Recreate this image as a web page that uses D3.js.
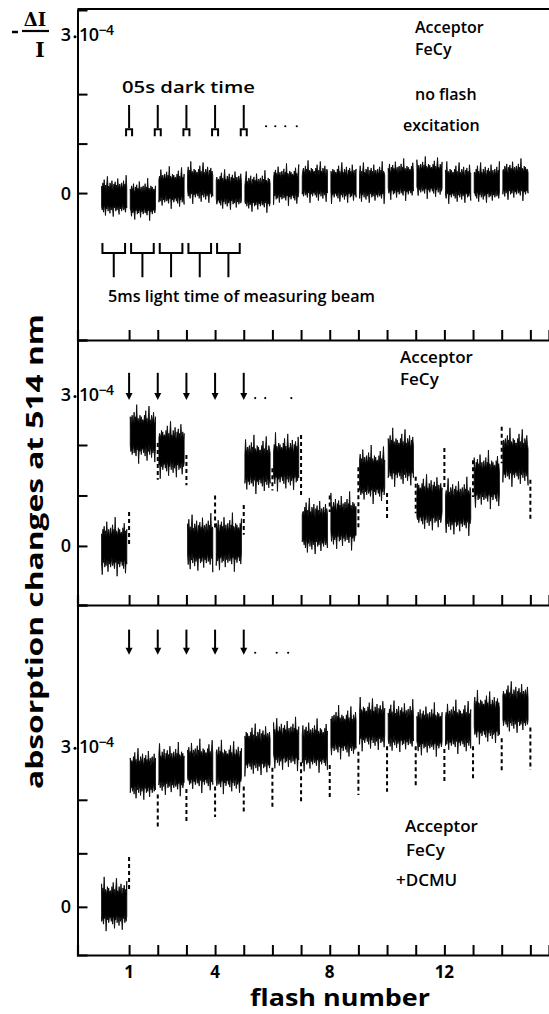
<!DOCTYPE html>
<html><head><meta charset="utf-8">
<script src="https://cdn.jsdelivr.net/npm/d3@7/dist/d3.min.js"></script>
<style>body{margin:0;background:#fff}svg{display:block}</style>
</head><body>
<svg id="c" width="549" height="1014"></svg>
<script>
// ---------- data (values in units of 1e-4) ----------
const flashTicks = [1,2,3,4,5,6,7,8,9,10,11,12,13,14,15];
const xTickLabels = [1,4,8,12];
const segmentIndex = [0,1,2,3,4,5,6,7,8,9,10,11,12,13,14];
const yTicks = [0,1,2];
const topLevels = [-0.08,-0.14,0.10,0.20,0.06,0.02,0.16,0.22,0.20,0.20,0.26,0.30,0.20,0.20,0.26];
const midLevels = [-0.03,2.20,1.90,0.05,0.06,1.60,1.65,0.38,0.48,1.40,1.74,0.85,0.77,1.30,1.74];
const botLevels = [0.04,2.47,2.56,2.62,2.60,2.93,3.03,3.00,3.25,3.40,3.36,3.30,3.35,3.53,3.72];
// dashed flash transients: [flash, from, to]
const midDashes = [[1,0.67,0.02],[2,2.04,1.31],[3,1.8,1.2],[4,1.0,0.32],[5,0.81,0.22],[6,1.54,1.1],[7,2.2,1.0],[8,1.0,0.67],
  [9,1.56,0.32],[10,1.05,0.51],[11,1.37,0.65],[12,1.94,1.17],[13,1.7,0.97],[14,2.36,1.64],[15,1.31,0.51]];
const botDashes = [[1,0.93,0.32],[2,2.1,1.5],[3,2.2,1.59],[4,2.25,1.68],[5,2.25,1.76],[6,2.6,1.87],[7,2.7,1.94],[8,2.65,2.04],
  [9,2.9,2.09],[10,3.0,2.15],[11,3.0,2.24],[12,2.95,2.32],[13,3.0,2.37],[14,3.15,2.5],[15,3.35,2.56]];
const arrowFlashes = [1,2,3,4,5];
// hand-typed noise texture of the recorder trace (envelope multipliers)
const noiseUp = [1.0,0.7,1.3,0.9,1.6,0.8,1.1,0.6,1.2,1.9,0.9,1.0,0.7,1.3,1.1,0.8,1.5,0.9,0.6,1.2,1.0,1.4,0.8,1.1,
  0.7,1.7,1.0,0.9,1.2,0.6,1.1,1.3,0.8,1.0,1.5,0.7,1.2,0.9,2.0,0.8,1.1,1.0,0.7,1.3,0.9,1.2,0.8,1.0];
const noiseDown = [0.9,1.2,0.8,1.4,0.7,1.0,1.7,0.9,1.1,0.6,1.3,0.8,1.0,1.5,0.7,1.2,0.9,1.1,1.8,0.8,1.0,0.7,1.3,0.9,
  1.2,0.8,1.0,1.6,0.7,1.1,0.9,1.3,1.0,0.6,1.2,0.9,1.1,1.4,0.8,1.0,0.7,1.9,0.9,1.1,0.8,1.3,1.0,0.9];

const svg = d3.select("#c");
const FONT = "'Open Sans', sans-serif";
const x = d3.scaleLinear().domain([-0.8, 15.65]).range([77.5, 549]);

const panels = [
  {levels: topLevels, dashes: [], y: d3.scaleLinear().domain([-2.97, 3.7]).range([340, 10]), hw: 0.22, labelDy: -10},
  {levels: midLevels, dashes: midDashes, y: d3.scaleLinear().domain([-1.17, 4.08]).range([605, 340]), hw: 0.30, labelDy: 0},
  {levels: botLevels, dashes: botDashes, y: d3.scaleLinear().domain([-0.9, 5.64]).range([955, 605]), hw: 0.26, labelDy: 0}
];

const NP = 40;
panels.forEach((p, pi) => {
  const g = svg.append("g");
  const y = p.y;
  const ax = d3.axisBottom(x).tickValues(flashTicks).tickSize(-10).tickFormat("");
  const ag = g.append("g").attr("transform", `translate(0,${y.range()[0]})`).call(ax);
  ag.select(".domain").attr("stroke", "#000").attr("stroke-width", 2.2);
  ag.selectAll(".tick line").attr("stroke", "#000").attr("stroke-width", 2);
  const ay = d3.axisLeft(y).tickValues(yTicks).tickSize(-10).tickFormat("");
  const yg = g.append("g").attr("transform", `translate(${x(-0.8)},0)`).call(ay);
  yg.select(".domain").attr("stroke", "#000").attr("stroke-width", 2);
  yg.selectAll(".tick line").attr("stroke", "#000").attr("stroke-width", 2);
  g.append("text").attr("x", 71).attr("y", y(0)).attr("dy", "0.36em").attr("text-anchor", "end")
    .attr("font-family", FONT).attr("font-weight", 600).attr("font-size", 18).text("0");
  const ly = y(3) + p.labelDy;
  g.append("text").attr("x", 71).attr("y", ly).attr("dy", "0.36em").attr("text-anchor", "end")
    .attr("font-family", FONT).attr("font-weight", 600).attr("font-size", 18).text("3");
  g.append("circle").attr("cx", 75).attr("cy", ly + 2).attr("r", 1.5).attr("fill", "#000");
  const t10 = g.append("text").attr("x", 79).attr("y", ly).attr("dy", "0.36em")
    .attr("font-family", FONT).attr("font-weight", 600).attr("font-size", 18).attr("letter-spacing", -0.5);
  t10.append("tspan").text("10");
  t10.append("tspan").attr("dy", -6).attr("font-size", 14).text("\u22124");

  const area = d3.area().x(d => x(d.f)).y0(d => y(d.lo)).y1(d => y(d.hi)).curve(d3.curveLinear);
  segmentIndex.forEach(s => {
    const lev = p.levels[s];
    const pts = d3.range(NP).map(j => {
      const k = (j + s * 11 + pi * 17) % noiseUp.length;
      return {f: s + 0.04 + 0.88 * j / (NP - 1), hi: lev + p.hw * noiseUp[k], lo: lev - p.hw * noiseDown[k]};
    });
    g.append("path").attr("d", area(pts)).attr("fill", "#000").attr("stroke", "#000").attr("stroke-width", 0.8);
  });
  p.dashes.forEach(d => {
    g.append("line").attr("x1", x(d[0])).attr("x2", x(d[0])).attr("y1", y(d[1])).attr("y2", y(d[2]))
      .attr("stroke", "#000").attr("stroke-width", 2).attr("stroke-dasharray", "4,3");
  });
});

svg.append("line").attr("x1", x(-0.8)).attr("x2", 549).attr("y1", 9).attr("y2", 9).attr("stroke", "#000").attr("stroke-width", 2.2);

// ---------- top panel annotations ----------
const yT = panels[0].y;
function txt(xp, yp, s, size, extra) {
  const t = svg.append("text").attr("x", xp).attr("y", yp).attr("font-family", FONT).attr("font-weight", 600)
    .attr("font-size", size).attr("fill", "#000").text(s);
  if (extra) Object.entries(extra).forEach(([k, v]) => t.attr(k, v));
  return t;
}
txt(122, 93, "05s dark time", 17, {textLength: 133, lengthAdjust: "spacingAndGlyphs"});
arrowFlashes.forEach(f => {
  const cx = x(f);
  svg.append("line").attr("x1", cx).attr("x2", cx).attr("y1", yT(1.78)).attr("y2", yT(1.31)).attr("stroke", "#000").attr("stroke-width", 2);
  svg.append("path").attr("d", `M${cx - 3},${yT(1.15)} V${yT(1.31) + 1} H${cx + 3} V${yT(1.15)}`)
    .attr("fill", "none").attr("stroke", "#000").attr("stroke-width", 2);
});
[5.78, 6.1, 6.45, 6.85].forEach(f => svg.append("circle").attr("cx", x(f)).attr("cy", yT(1.35)).attr("r", 1.1).attr("fill", "#000"));
[0,1,2,3,4].forEach(i => {
  const a = x(i + 0.07), b = x(i + 0.86), m = (a + b) / 2;
  svg.append("path").attr("d", `M${a},${yT(-1.01)} V${yT(-1.21)} H${b} V${yT(-1.01)} M${m},${yT(-1.21)} V${yT(-1.70)}`)
    .attr("fill", "none").attr("stroke", "#000").attr("stroke-width", 2);
});
txt(108, 302, "5ms light time of measuring beam", 17, {textLength: 267, lengthAdjust: "spacingAndGlyphs"});
txt(415, 33, "Acceptor", 16);
txt(415, 55, "FeCy", 16);
txt(415, 100, "no flash", 16);
txt(403, 131, "excitation", 16);

// ---------- middle & bottom annotations ----------
[[panels[1].y, 3.43, 2.89, [5.4, 5.75, 6.66]], [panels[2].y, 5.18, 4.71, [5.4, 6.15, 6.55]]].forEach(([yy, a, b, dots]) => {
  arrowFlashes.forEach(f => {
    const cx = x(f);
    svg.append("line").attr("x1", cx).attr("x2", cx).attr("y1", yy(a)).attr("y2", yy(b) - 5).attr("stroke", "#000").attr("stroke-width", 2);
    svg.append("path").attr("d", `M${cx - 3.5},${yy(b) - 7} L${cx + 3.5},${yy(b) - 7} L${cx},${yy(b)} Z`).attr("fill", "#000");
  });
  dots.forEach(f => svg.append("circle").attr("cx", x(f)).attr("cy", yy(b) - 2).attr("r", 1.1).attr("fill", "#000"));
});
txt(400, 363, "Acceptor", 17);
txt(400, 385, "FeCy", 17);
txt(405, 832, "Acceptor", 17);
txt(406, 856, "FeCy", 17);
txt(396, 886, "+DCMU", 17);

// ---------- axis texts ----------
xTickLabels.forEach(v => {
  svg.append("text").attr("x", x(v)).attr("y", 978).attr("text-anchor", "middle")
    .attr("font-family", FONT).attr("font-weight", 700).attr("font-size", 17).text(v);
});
svg.append("text").attr("x", 250).attr("y", 1006).attr("font-family", FONT).attr("font-weight", 700)
  .attr("font-size", 23).attr("textLength", 180).attr("lengthAdjust", "spacingAndGlyphs").text("flash number");
svg.append("text").attr("transform", "translate(43,789) rotate(-90)").attr("font-family", FONT).attr("font-weight", 700)
  .attr("font-size", 24).attr("textLength", 475).attr("lengthAdjust", "spacingAndGlyphs").text("absorption changes at 514 nm");

// -ΔI/I
svg.append("line").attr("x1", 12).attr("x2", 18).attr("y1", 32).attr("y2", 32).attr("stroke", "#000").attr("stroke-width", 2.5);
svg.append("text").attr("x", 35).attr("y", 26).attr("text-anchor", "middle").attr("font-family", "'DejaVu Serif', serif")
  .attr("font-weight", 700).attr("font-size", 18).text("\u0394I");
svg.append("line").attr("x1", 22).attr("x2", 49).attr("y1", 31).attr("y2", 31).attr("stroke", "#000").attr("stroke-width", 2.2);
svg.append("text").attr("x", 40).attr("y", 57).attr("text-anchor", "middle").attr("font-family", "'DejaVu Serif', serif")
  .attr("font-weight", 700).attr("font-size", 20).text("I");
</script>
</body></html>
